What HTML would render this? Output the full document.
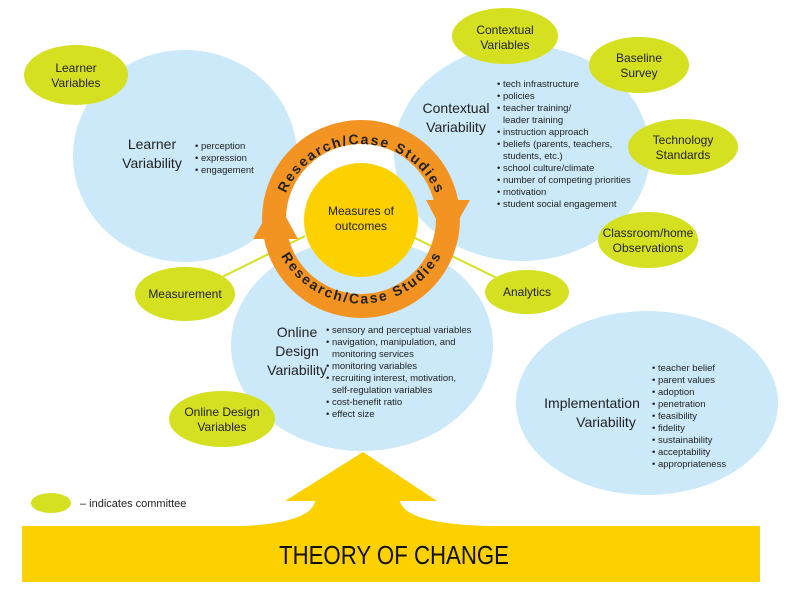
<!DOCTYPE html>
<html><head><style>body{margin:0;background:#fff}svg{display:block}text{font-family:"Liberation Sans",sans-serif}</style></head><body>
<svg width="792" height="612" viewBox="0 0 792 612" xmlns="http://www.w3.org/2000/svg">
<defs>
<path id="topArc" d="M279,226 A82,82 0 0 1 443,226"/>
<path id="botArc" d="M271,226 A91,91 0 0 0 451,226"/>
</defs>
<g fill="#cbe9f8">
<ellipse cx="185" cy="156" rx="112" ry="106"/>
<ellipse cx="522" cy="153" rx="128" ry="108"/>
<ellipse cx="362" cy="345" rx="131" ry="106"/>
<ellipse cx="647" cy="403" rx="131" ry="92"/>
</g>
<g stroke="#d5e021" stroke-width="2">
<line x1="212" y1="282" x2="305" y2="236"/>
<line x1="505" y1="282" x2="415" y2="238"/>
</g>
<g fill="#d5e021">
<ellipse cx="76" cy="75" rx="52" ry="30"/>
<ellipse cx="505" cy="36" rx="53" ry="28"/>
<ellipse cx="639" cy="65" rx="50" ry="28"/>
<ellipse cx="683" cy="147" rx="55" ry="28"/>
<ellipse cx="648" cy="240" rx="50" ry="28"/>
<ellipse cx="185" cy="294" rx="50" ry="27"/>
<ellipse cx="527" cy="292" rx="42" ry="22"/>
<ellipse cx="222" cy="419" rx="53" ry="28"/>
<ellipse cx="51" cy="503" rx="20" ry="10"/>
</g>
<circle cx="361" cy="220" r="57" fill="#fdd000"/>
<circle cx="361" cy="219" r="87" fill="none" stroke="#f39322" stroke-width="24"/>
<polygon points="253,239 298,239 276,199" fill="#f39322"/>
<polygon points="426,200 470,200 447,240" fill="#f39322"/>
<text font-size="14" font-weight="bold" fill="#222"><textPath href="#topArc" startOffset="50%" text-anchor="middle" textLength="190">Research/Case Studies</textPath></text>
<text font-size="14" font-weight="bold" fill="#222"><textPath href="#botArc" startOffset="50%" text-anchor="middle" textLength="195">Research/Case Studies</textPath></text>
<path d="M363,452 L437,501 L400,501 Q405,524 490,526 L760,526 L760,582 L22,582 L22,526 L245,526 Q312,522 315,501 L285,501 Z" fill="#fdd000"/>
<text x="394" y="564" font-size="26" text-anchor="middle" fill="#111" textLength="230" lengthAdjust="spacingAndGlyphs">THEORY OF CHANGE</text>
<g font-size="12" fill="#222" text-anchor="middle">
<text x="76" y="72">Learner</text><text x="76" y="87">Variables</text>
<text x="505" y="34">Contextual</text><text x="505" y="49">Variables</text>
<text x="639" y="62">Baseline</text><text x="639" y="77">Survey</text>
<text x="683" y="144">Technology</text><text x="683" y="159">Standards</text>
<text x="648" y="237">Classroom/home</text><text x="648" y="252">Observations</text>
<text x="185" y="298">Measurement</text>
<text x="527" y="296">Analytics</text>
<text x="222" y="416">Online Design</text><text x="222" y="431">Variables</text>
<text x="361" y="215">Measures of</text><text x="361" y="230">outcomes</text>
</g>
<g font-size="14" fill="#222" text-anchor="middle">
<text x="152" y="149">Learner</text><text x="152" y="168">Variability</text>
<text x="456" y="113">Contextual</text><text x="456" y="132">Variability</text>
<text x="297" y="337">Online</text><text x="297" y="356">Design</text><text x="297" y="375">Variability</text>
<text x="592" y="408">Implementation</text><text x="606" y="427">Variability</text>
</g>
<g font-size="9.5" fill="#222">
<text x="195" y="149">• perception</text><text x="195" y="161">• expression</text><text x="195" y="173">• engagement</text>
<text x="497" y="87">• tech infrastructure</text>
<text x="497" y="99">• policies</text>
<text x="497" y="111">• teacher training/</text>
<text x="503" y="123">leader training</text>
<text x="497" y="135">• instruction approach</text>
<text x="497" y="147">• beliefs (parents, teachers,</text>
<text x="503" y="159">students, etc.)</text>
<text x="497" y="171">• school culture/climate</text>
<text x="497" y="183">• number of competing priorities</text>
<text x="497" y="195">• motivation</text>
<text x="497" y="207">• student social engagement</text>
<text x="326" y="333">• sensory and perceptual variables</text>
<text x="326" y="345">• navigation, manipulation, and</text>
<text x="332" y="357">monitoring services</text>
<text x="326" y="369">• monitoring variables</text>
<text x="326" y="381">• recruiting interest, motivation,</text>
<text x="332" y="393">self-regulation variables</text>
<text x="326" y="405">• cost-benefit ratio</text>
<text x="326" y="417">• effect size</text>
<text x="652" y="371">• teacher belief</text>
<text x="652" y="383">• parent values</text>
<text x="652" y="395">• adoption</text>
<text x="652" y="407">• penetration</text>
<text x="652" y="419">• feasibility</text>
<text x="652" y="431">• fidelity</text>
<text x="652" y="443">• sustainability</text>
<text x="652" y="455">• acceptability</text>
<text x="652" y="467">• appropriateness</text>
</g>
<text x="80" y="507" font-size="11" fill="#222">– indicates committee</text>
</svg>
</body></html>
